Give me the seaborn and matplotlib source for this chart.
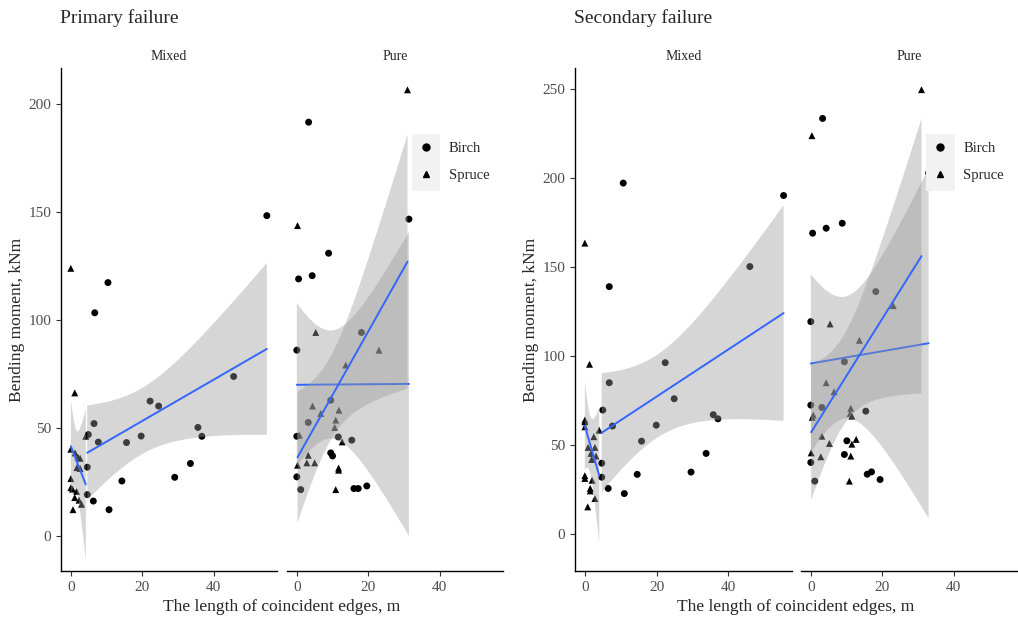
"""Bending moment vs length of coincident edges, primary and secondary failure."""
import matplotlib

matplotlib.use("Agg")
import matplotlib.pyplot as plt
import numpy as np
import pandas as pd
import seaborn as sns
from matplotlib.lines import Line2D
from matplotlib.patches import Rectangle

# ---- data ------------------------------------------------------------------
# primary failure, mixed stands
p_mix_birch_x = [10.4, 6.7, 54.9, 6.5, 4.9, 7.7, 22.2, 24.6, 19.7, 15.6,
                 45.6, 35.6, 36.7, 33.5, 29.1, 14.3, 10.7, 6.3, 4.6, 4.6]
p_mix_birch_y = [117.4, 103.4, 148.4, 52.1, 47.0, 43.5, 62.5, 60.2, 46.3, 43.3,
                 73.9, 50.3, 46.2, 33.6, 27.2, 25.5, 12.2, 16.2, 19.2, 31.9]
p_mix_spruce_x = [0.0, 1.1, 0.0, 2.0, 2.6, 1.7, 2.6, 0.0, 0.0, 0.5,
                  1.6, 1.1, 2.3, 3.0, 0.6, 4.2, 1.2]
p_mix_spruce_y = [124.0, 66.3, 40.2, 36.6, 36.0, 31.7, 31.3, 26.6, 22.4, 21.7,
                  20.7, 17.8, 16.6, 14.7, 12.2, 46.2, 38.5]
# primary failure, pure stands
p_pure_birch_x = [3.3, 31.4, 8.9, 0.5, 4.3, 18.1, 0.0, 9.5, 3.2, 0.0,
                  11.6, 15.4, 9.5, 10.0, 0.0, 1.1, 16.0, 17.2, 19.6]
p_pure_birch_y = [191.7, 146.8, 131.0, 119.1, 120.6, 94.3, 86.1, 62.9, 52.6, 46.2,
                  45.9, 44.4, 38.5, 37.1, 27.4, 21.5, 22.0, 22.0, 23.2]
p_pure_spruce_x = [0.2, 5.3, 23.0, 13.7, 4.4, 6.7, 11.8, 10.9, 10.6, 0.7,
                   12.7, 3.2, 2.8, 5.0, 0.2, 11.7, 11.7, 10.9, 31.0]
p_pure_spruce_y = [143.8, 94.3, 86.1, 79.2, 60.2, 56.8, 58.3, 53.7, 50.3, 46.7,
                   43.6, 37.4, 33.9, 33.9, 32.8, 31.5, 30.5, 21.5, 206.7]
# secondary failure, mixed stands
s_mix_birch_x = [10.7, 6.8, 55.4, 46.0, 22.4, 6.8, 24.9, 5.0, 7.7, 19.9,
                 15.8, 35.8, 37.1, 33.8, 29.6, 14.6, 4.7, 4.7, 6.5, 11.0]
s_mix_birch_y = [197.3, 139.0, 190.3, 150.3, 96.2, 84.9, 75.9, 69.5, 60.5, 61.0,
                 52.0, 66.9, 64.6, 45.1, 34.6, 33.3, 39.6, 31.7, 25.4, 22.5]
s_mix_spruce_x = [0.0, 1.3, 4.0, 0.0, 0.0, 0.0, 2.5, 0.9, 2.8, 1.7,
                  3.1, 1.9, 0.0, 0.0, 2.0, 1.5, 1.5, 2.8, 0.8]
s_mix_spruce_y = [163.5, 95.3, 58.2, 63.9, 62.9, 60.1, 54.5, 48.5, 48.5, 45.1,
                  43.6, 41.7, 32.6, 31.0, 30.0, 25.4, 24.0, 19.7, 15.0]
# secondary failure, pure stands (last birch point sits under the legend keys)
s_pure_birch_x = [3.3, 0.5, 4.3, 8.8, 18.2, 0.0, 9.4, 0.0, 3.1, 15.4,
                  0.0, 1.1, 10.1, 9.4, 15.8, 17.0, 19.4, 33.0]
s_pure_birch_y = [233.7, 169.1, 171.9, 174.7, 136.2, 119.3, 96.7, 72.3, 71.0, 68.9,
                  40.0, 29.5, 52.2, 44.5, 33.4, 34.7, 30.4, 203.0]
s_pure_spruce_x = [31.0, 0.3, 23.1, 5.4, 13.6, 4.3, 6.5, 0.7, 0.4, 11.2,
                   11.0, 11.5, 3.1, 5.2, 0.1, 2.8, 12.7, 11.5, 11.2, 10.8]
s_pure_spruce_y = [249.9, 224.0, 128.3, 118.0, 108.8, 84.9, 79.8, 66.7, 65.4, 70.5,
                   67.6, 66.1, 54.8, 50.7, 45.4, 43.2, 53.0, 50.3, 43.6, 29.5]

failures = ["Primary failure", "Secondary failure"]
stands = ["Mixed", "Pure"]
species = ["Birch", "Spruce"]
x_ticks = [0, 20, 40]
y_ticks = {"Primary failure": [0, 50, 100, 150, 200],
           "Secondary failure": [0, 50, 100, 150, 200, 250]}
y_limits = {"Primary failure": (-16.2, 216.8),
            "Secondary failure": (-21.1, 262.1)}

groups = {
    ("Primary failure", "Mixed", "Birch"): (p_mix_birch_x, p_mix_birch_y),
    ("Primary failure", "Mixed", "Spruce"): (p_mix_spruce_x, p_mix_spruce_y),
    ("Primary failure", "Pure", "Birch"): (p_pure_birch_x, p_pure_birch_y),
    ("Primary failure", "Pure", "Spruce"): (p_pure_spruce_x, p_pure_spruce_y),
    ("Secondary failure", "Mixed", "Birch"): (s_mix_birch_x, s_mix_birch_y),
    ("Secondary failure", "Mixed", "Spruce"): (s_mix_spruce_x, s_mix_spruce_y),
    ("Secondary failure", "Pure", "Birch"): (s_pure_birch_x, s_pure_birch_y),
    ("Secondary failure", "Pure", "Spruce"): (s_pure_spruce_x, s_pure_spruce_y),
}

frames = []
for (fail, stand, sp), (xs, ys) in groups.items():
    frames.append(pd.DataFrame({"failure": fail, "stand": stand, "species": sp,
                                "edge": xs, "moment": ys}))
df = pd.concat(frames, ignore_index=True)


def t975(dof):
    # Cornish-Fisher approximation of the 97.5% t quantile
    z = 1.959964
    return (z + (z**3 + z) / (4 * dof)
            + (5 * z**5 + 16 * z**3 + 3 * z) / (96 * dof**2)
            + (3 * z**7 + 19 * z**5 + 17 * z**3 - 15 * z) / (384 * dof**3))


def lm_band(x, y, n_grid=80):
    # analytic 95% confidence band of an OLS fit, as geom_smooth(method="lm")
    x, y = np.asarray(x, float), np.asarray(y, float)
    n = len(x)
    b, a = np.polyfit(x, y, 1)
    resid = y - (a + b * x)
    s = np.sqrt(resid @ resid / (n - 2))
    grid = np.linspace(x.min(), x.max(), n_grid)
    se = s * np.sqrt(1 / n + (grid - x.mean()) ** 2 / ((x - x.mean()) ** 2).sum())
    fit = a + b * grid
    half = t975(n - 2) * se
    return grid, fit - half, fit + half


# ---- styling ---------------------------------------------------------------
sns.set_style("ticks")
plt.rcParams["font.family"] = ["Liberation Serif", "DejaVu Serif"]

W, H = 1018, 617
fig = plt.figure(figsize=(W / 100, H / 100), dpi=100)


def fig_axes(x0, x1, y0, y1):
    return fig.add_axes([x0 / W, 1 - y1 / H, (x1 - x0) / W, (y1 - y0) / H])


# pixel boxes of the facets
boxes = {
    ("Primary failure", "Mixed"): (61, 277),
    ("Primary failure", "Pure"): (287, 503),
    ("Secondary failure", "Mixed"): (575, 792),
    ("Secondary failure", "Pure"): (801, 1017),
}
top_px, bottom_px = 68, 571
legend_px = {"Primary failure": (411.7, 134), "Secondary failure": (926, 134)}
markers = {"Birch": "o", "Spruce": "^"}

for fail in failures:
    for stand in stands:
        x0, x1 = boxes[(fail, stand)]
        ax = fig_axes(x0, x1, top_px, bottom_px)
        sub = df.query("failure == @fail and stand == @stand")
        sns.scatterplot(data=sub, x="edge", y="moment", style="species",
                        markers=markers, color="black", s=25, linewidth=0,
                        legend=False, ax=ax, zorder=1)
        for i, sp in enumerate(species):
            d = sub[sub["species"] == sp]
            grid, lo, hi = lm_band(d["edge"], d["moment"])
            ax.fill_between(grid, lo, hi, facecolor="#999999", alpha=0.4,
                            edgecolor="none", zorder=1.1 + 0.2 * i)
            sns.regplot(data=d, x="edge", y="moment", scatter=False, ci=None,
                        ax=ax, truncate=True,
                        line_kws={"lw": 1.4, "color": "#3366FF",
                                  "zorder": 1.2 + 0.2 * i})

        ax.set_xlim(-2.75, 57.75)
        ax.set_ylim(*y_limits[fail])
        ax.set_xticks(x_ticks)
        ax.set_yticks(y_ticks[fail])
        ax.set_xlabel("")
        ax.set_ylabel("")
        sns.despine(ax=ax, left=(stand == "Pure"))
        ax.tick_params(colors="#333333", labelcolor="#4D4D4D", labelsize=11,
                       length=3.5, width=0.8)
        for s in ax.spines.values():
            s.set_linewidth(1.0)
            s.set_color("black")
        if stand == "Pure":
            ax.tick_params(axis="y", left=False, labelleft=False)
        ax.set_title(stand, fontsize=10, pad=6)

        if stand == "Pure":
            lx, ly = legend_px[fail]
            ax.add_patch(Rectangle((lx / W, 1 - (ly + 57) / H), 28.5 / W, 57 / H,
                                   transform=fig.transFigure, facecolor="#F2F2F2",
                                   edgecolor="none", zorder=5, clip_on=False))
            handles = [Line2D([], [], marker=markers[sp], color="black", ls="none",
                              markersize=5) for sp in species]
            leg = ax.legend(handles, species, loc="upper left",
                            bbox_to_anchor=(lx / W, 1 - (ly + 8) / H),
                            bbox_transform=fig.transFigure, frameon=False,
                            borderpad=0, borderaxespad=0, handlelength=1.95,
                            handletextpad=0.6, labelspacing=0.95, fontsize=10.5)
            leg.set_zorder(6)

    left = boxes[(fail, "Mixed")][0]
    right = boxes[(fail, "Pure")][1]
    fig.text((left - 1) / W, 1 - 18 / H, fail, fontsize=14, va="center", ha="left")
    fig.text((left + right) / 2 / W, 1 - 607 / H, "The length of coincident edges, m",
             fontsize=12.5, ha="center", va="center")
    fig.text((left - 44) / W, 1 - (top_px + bottom_px) / 2 / H, "Bending moment, kNm",
             fontsize=12.5, rotation=90, ha="center", va="center")

fig.savefig("out.png", dpi=100)
